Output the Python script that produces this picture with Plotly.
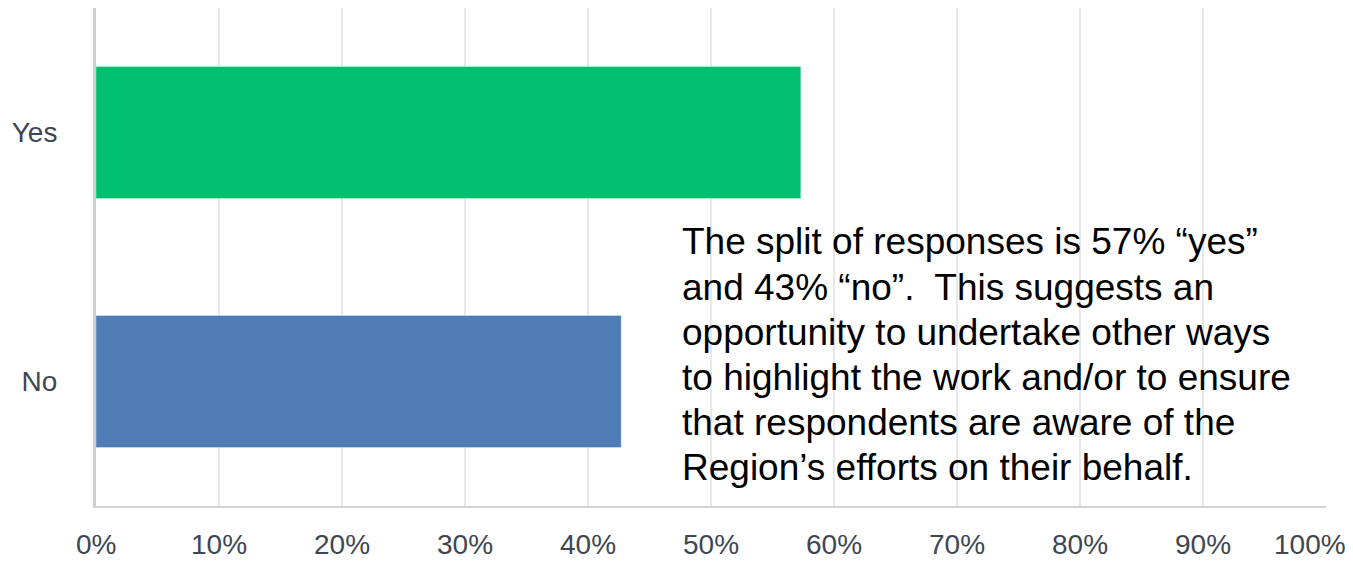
import plotly.graph_objects as go

# Survey answers and their share of respondents (%)
categories = ["Yes", "No"]
shares = [57.3, 42.7]
bar_colors = ["#00BF6F", "#507CB6"]
x_ticks = [0, 10, 20, 30, 40, 50, 60, 70, 80, 90, 100]
x_tick_labels = [f"{t}%" for t in x_ticks]

yes_pct = round(shares[0])
no_pct = round(shares[1])
commentary_lines = [
    f"The split of responses is {yes_pct}% \u201cyes\u201d",
    f"and {no_pct}% \u201cno\u201d.&nbsp; This suggests an",
    "opportunity to undertake other ways",
    "to highlight the work and/or to ensure",
    "that respondents are aware of the",
    "Region\u2019s efforts on their behalf.",
]

# plot area geometry in pixels
PLOT_TOP, PLOT_BOTTOM = 8, 506
PLOT_H = PLOT_BOTTOM - PLOT_TOP

fig = go.Figure(
    go.Bar(
        x=shares,
        y=categories,
        orientation="h",
        width=0.53,
        marker=dict(color=bar_colors, line=dict(color="rgba(255,255,255,0.35)", width=1)),
        hoverinfo="skip",
    )
)

tick_font = dict(family="Liberation Sans, Arial, sans-serif", size=28, color="#3E4652")

# x-axis labels drawn as annotations so the last one can sit inside the page
annotations = []
for t, lab in zip(x_ticks, x_tick_labels):
    annotations.append(
        dict(
            x=t, y=0, xref="x", yref="paper",
            text=lab, showarrow=False,
            xanchor="center", yanchor="middle",
            yshift=-38, xshift=-16 if t == 100 else 0,
            font=tick_font,
        )
    )

# commentary block, one annotation per line for a tight line pitch
first_center_px, line_pitch_px = 242, 45
for i, line in enumerate(commentary_lines):
    center_px = first_center_px + i * line_pitch_px
    annotations.append(
        dict(
            x=47.5, y=(PLOT_BOTTOM - center_px) / PLOT_H, xref="x", yref="paper",
            text=line, showarrow=False,
            xanchor="left", yanchor="middle", align="left",
            font=dict(family="Liberation Sans, Arial, sans-serif", size=37, color="#000000"),
        )
    )

fig.update_layout(
    width=1353,
    height=561,
    margin=dict(l=96, r=27, t=PLOT_TOP, b=561 - PLOT_BOTTOM),
    paper_bgcolor="white",
    plot_bgcolor="white",
    showlegend=False,
    annotations=annotations,
    xaxis=dict(
        range=[0, 100],
        tickvals=x_ticks,
        showticklabels=False,
        showgrid=True,
        gridcolor="#E8E8E8",
        gridwidth=2,
        zeroline=False,
        showline=True,
        linecolor="#D3D3D3",
        linewidth=2,
        fixedrange=True,
    ),
    yaxis=dict(
        categoryorder="array",
        categoryarray=categories[::-1],
        showgrid=False,
        zeroline=False,
        showline=True,
        linecolor="#CFCFCF",
        linewidth=3,
        ticks="",
        tickfont=tick_font,
        ticklabelstandoff=30,
        fixedrange=True,
    ),
)

fig.write_html("out.html")
